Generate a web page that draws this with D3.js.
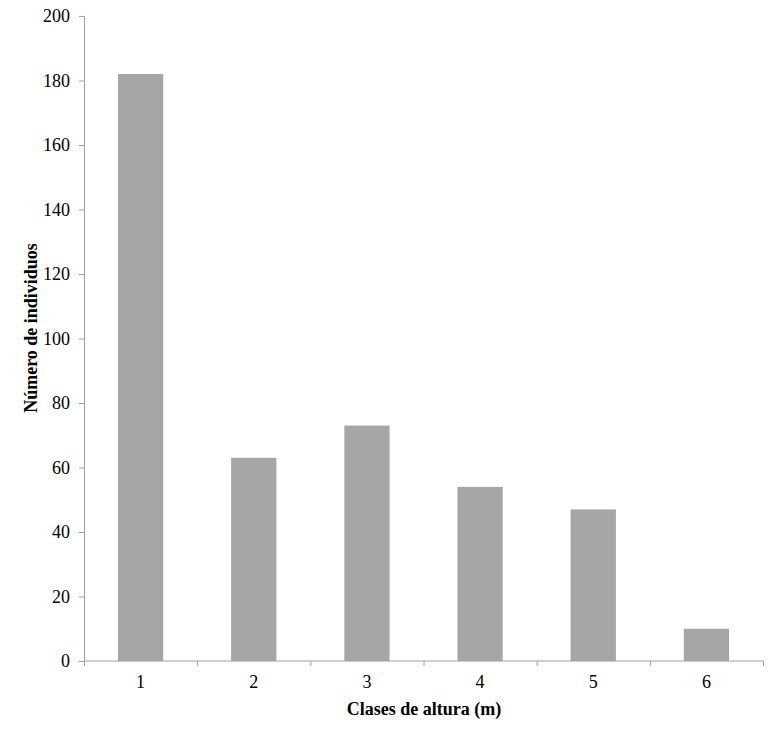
<!DOCTYPE html>
<html><head><meta charset="utf-8">
<script src="https://cdn.jsdelivr.net/npm/d3@7"></script>
<style>body{margin:0;background:#fff}svg{display:block}</style>
</head><body>
<script>
const categories = ["1","2","3","4","5","6"];
const values = [182, 63, 73, 54, 47, 10];
const yTicks = [0,20,40,60,80,100,120,140,160,180,200];

const W=779,H=737;
const svg=d3.select("body").append("svg").attr("width",W).attr("height",H);
const x=d3.scaleBand().domain(categories).range([84,763]).paddingInner(0.6).paddingOuter(0.3);
const y=d3.scaleLinear().domain([0,200]).range([661,16]);
const axisColor="#a0a0a0";
const font="'Liberation Serif','Times New Roman',serif";

svg.append("g").selectAll("rect").data(values).join("rect")
  .attr("x",(d,i)=>x(categories[i])).attr("width",x.bandwidth())
  .attr("y",d=>y(d)).attr("height",d=>y(0)-y(d)).attr("fill","#a6a6a6");

// y axis
const ya=svg.append("g").attr("transform","translate(84,0)")
  .call(d3.axisLeft(y).tickValues(yTicks).tickSize(5).tickPadding(9))
  .attr("font-family",font).attr("font-size",18);
ya.select(".domain").attr("stroke",axisColor);
ya.selectAll(".tick line").attr("stroke",axisColor);
ya.selectAll("text").attr("fill","#000");

// x axis
const xb=d3.scaleLinear().domain([0,6]).range([84,763]);
const xa=svg.append("g").attr("transform","translate(0,661)");
xa.append("line").attr("x1",84).attr("x2",763).attr("stroke",axisColor);
xa.selectAll("line.t").data(d3.range(0,7)).join("line").attr("class","t")
  .attr("x1",d=>xb(d)+0.5).attr("x2",d=>xb(d)+0.5).attr("y1",0).attr("y2",5).attr("stroke",axisColor);
xa.selectAll("text").data(categories).join("text")
  .attr("x",d=>x(d)+x.bandwidth()/2).attr("y",27)
  .attr("text-anchor","middle").attr("font-family",font).attr("font-size",18).text(d=>d);

svg.append("text").attr("x",424).attr("y",715).attr("text-anchor","middle")
  .attr("font-family",font).attr("font-size",18).attr("font-weight","bold").text("Clases de altura (m)");
svg.append("text").attr("transform","translate(37,328) rotate(-90)").attr("text-anchor","middle")
  .attr("font-family",font).attr("font-size",18).attr("font-weight","bold").text("Número de individuos");
</script>
</body></html>
